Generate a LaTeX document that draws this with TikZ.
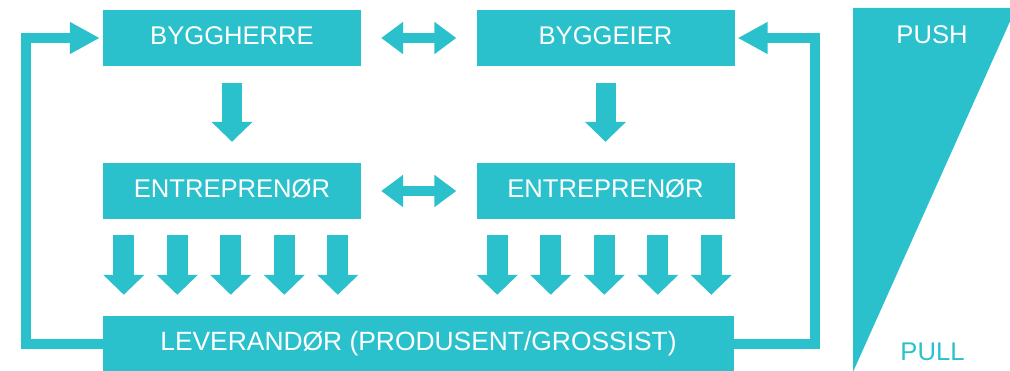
\documentclass[tikz,border=0pt]{standalone}
\usepackage{fontspec}
\setmainfont{Liberation Sans}
\usetikzlibrary{arrows.meta,calc}
\definecolor{tealc}{RGB}{42,193,205}
\begin{document}
\begin{tikzpicture}[x=1pt,y=-1pt,
  box/.style={fill=tealc, text=white, minimum width=258pt, minimum height=56pt, inner sep=0pt,
    font=\fontsize{25.6}{26}\selectfont, text height=18.3pt, text depth=5pt},
  lab/.style={inner sep=0pt, font=\fontsize{25.6}{26}\selectfont, text height=18.3pt, text depth=0pt},
  fb/.style={draw=tealc, line width=10pt, line join=miter, -{Triangle[length=30pt,width=30pt]}, shorten >=3pt},
  dbl/.style={draw=tealc, line width=10pt, {Triangle[length=22pt,width=31pt]}-{Triangle[length=22pt,width=31pt]}, shorten >=20pt, shorten <=20pt},
  downarr/.style={draw=tealc, line width=21pt, -{Triangle[length=20pt,width=40pt]}},
]
\useasboundingbox (0,0) rectangle (1010,371);
\clip (0,0) rectangle (1010,371);

% push/pull wedge
\fill[tealc] (853,8) -- (1016,8) -- (853,372) -- cycle;
\node[lab, text=white] (push) at (932,34) {PUSH};
\node[lab, text=tealc] (pull) at (932.5,351.5) {PULL};

% boxes
\node[box] (bh) at (232,38) {BYGGHERRE};
\node[box] (be) at (605.5,38) {BYGGEIER};
\node[box] (el) at (232,191) {ENTREPRENØR};
\node[box] (er) at (605.5,191) {ENTREPRENØR};
\node[box, minimum width=631pt, font=\fontsize{26.4}{27}\selectfont, text height=18.9pt, text depth=6pt] (lev) at (418.5,344) {LEVERANDØR (PRODUSENT/GROSSIST)};

% double arrows
\draw[dbl] (bh.east) -- (be.west);
\draw[dbl] (el.east) -- (er.west);

% big down arrows
\draw[downarr, line width=20pt, shorten <=17pt, shorten >=21pt] (bh.south) -- (el.north);
\draw[downarr, line width=20pt, shorten <=17pt, shorten >=21pt] (be.south) -- (er.north);

% small down arrows
\foreach \i in {0,...,4}{
  \coordinate (sl\i) at ($(el.south west)+(21+53.5*\i,0)$);
  \coordinate (sr\i) at ($(er.south west)+(21+53.5*\i,0)$);
  \draw[downarr, shorten <=16pt, shorten >=21pt] (sl\i) -- (sl\i |- lev.north);
  \draw[downarr, shorten <=16pt, shorten >=21pt] (sr\i) -- (sr\i |- lev.north);
}

% feedback loops
\coordinate (lc) at (26,38);
\coordinate (rc) at (814.5,38);
\draw[fb] (lev.west) -| (lc) -- (bh.west);
\draw[fb] (lev.east) -| (rc) -- (be.east);
\end{tikzpicture}
\end{document}
